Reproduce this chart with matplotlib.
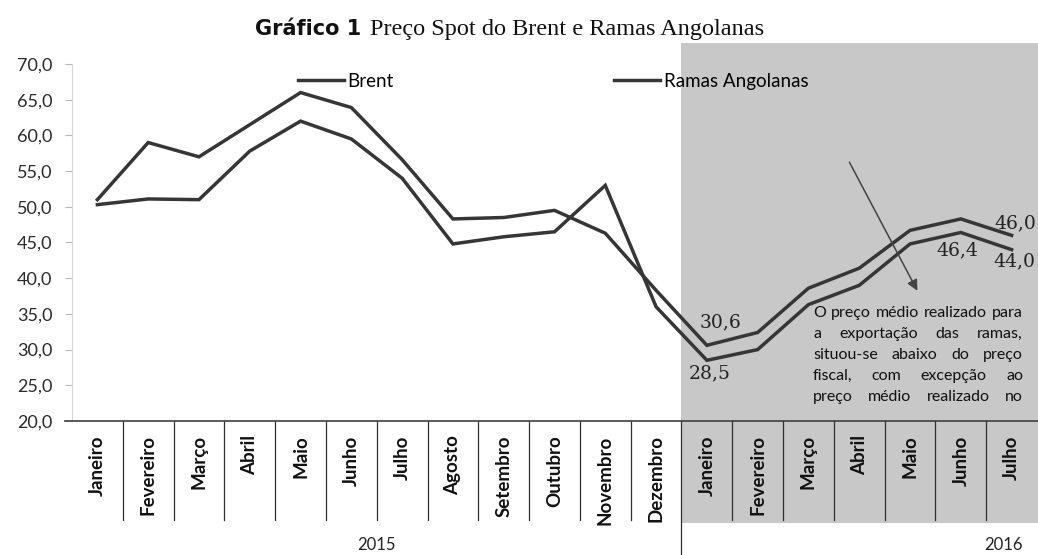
import matplotlib
matplotlib.use("Agg")
import matplotlib.pyplot as plt
from matplotlib.patches import Rectangle
import numpy as np

# dados (USD/barril)
meses = ['Janeiro', 'Fevereiro', 'Março', 'Abril', 'Maio', 'Junho', 'Julho',
         'Agosto', 'Setembro', 'Outubro', 'Novembro', 'Dezembro',
         'Janeiro', 'Fevereiro', 'Março', 'Abril', 'Maio', 'Junho', 'Julho']
anos = ['2015', '2016']
brent = [51.0, 59.0, 57.0, 61.5, 66.0, 63.9, 56.6, 48.3, 48.5, 49.5, 46.3, 38.3,
         30.6, 32.4, 38.6, 41.4, 46.7, 48.3, 46.0]
ramas = [50.3, 51.1, 51.0, 57.8, 62.0, 59.5, 54.0, 44.8, 45.8, 46.5, 53.0, 36.0,
         28.5, 30.0, 36.3, 39.0, 44.8, 46.4, 44.0]
nota = ["O preço médio realizado para",
        "a exportação das ramas,",
        "situou-se abaixo do preço",
        "fiscal, com excepção ao",
        "preço médio realizado no"]

W, H = 1038, 555
cor = '#363636'
fig = plt.figure(figsize=(W / 100, H / 100), dpi=100)
ax = fig.add_axes([72 / W, 1 - 421 / H, 965 / W, 357 / H])
n = len(meses)
x = np.arange(n) + 0.5
ax.set_xlim(0, n)
ax.set_ylim(20, 70)

# area sombreada 2016
ax.add_patch(Rectangle((12, 5.7), n - 12 + 0.2, 67.3, facecolor='#c8c8c8',
                       edgecolor='none', zorder=0, clip_on=False))

l1, = ax.plot(x, brent, color=cor, lw=2.5, zorder=3, solid_joinstyle='miter')
l2, = ax.plot(x, ramas, color=cor, lw=2.5, zorder=3, solid_joinstyle='miter')

# eixos
for s in ['top', 'right', 'bottom']:
    ax.spines[s].set_visible(False)
ax.spines['left'].set_color('#d6d6d6')
ax.set_yticks(np.arange(20, 71, 5))
ax.set_yticklabels([f"{v:.1f}".replace('.', ',') for v in np.arange(20, 71, 5)],
                   fontsize=13, color='#2a2a2a', family='Lato')
ax.tick_params(axis='y', length=5, color='#bbbbbb', pad=9)
ax.set_xticks([])
ax.plot([-0.14, n + 0.1], [20, 20], color='#404040', lw=1.2, clip_on=False, zorder=4)

# divisorias das categorias
for i in range(1, n):
    ybot = 1.0 if i == 12 else 6.1
    ax.plot([i, i], [20, ybot], color='#303030', lw=0.9, clip_on=False, zorder=2)
for xi, m in zip(x, meses):
    ax.text(xi, 18.0, m, rotation=90, ha='center', va='top', fontsize=13.5,
            fontweight='bold', family='Lato', color='#111111', clip_on=False)
ax.text(6.0, 2.6, anos[0], ha='center', va='center', fontsize=12, family='Lato', color='#222222')
ax.text(18.33, 2.6, anos[1], ha='center', va='center', fontsize=12, family='Lato', color='#222222')

# legendas
lp = dict(frameon=False, handlelength=2.45, handletextpad=0.2,
          prop={'family': 'Lato', 'size': 13.5}, borderaxespad=0, borderpad=0)
leg1 = ax.legend([l1], ['Brent'], loc='center left', bbox_to_anchor=(4.45 / n, 0.952), **lp)
ax.add_artist(leg1)
ax.legend([l2], ['Ramas Angolanas'], loc='center left', bbox_to_anchor=(10.67 / n, 0.952), **lp)

# rotulos de valores
lab = dict(fontsize=13.5, family='DejaVu Serif', color='#222222', ha='center', va='center',
           textcoords='offset points')
def rot(i, serie, dx, dy):
    ax.annotate(f"{serie[i]:.1f}".replace('.', ','), (x[i], serie[i]), xytext=(dx, dy), **lab)
rot(12, brent, 10, 16.6)
rot(12, ramas, 2.2, -9.4)
rot(17, ramas, -2.2, -13)
rot(18, brent, 2.5, 8.6)
rot(18, ramas, 2.0, -8.6)

# seta
ax.annotate('', xy=(16.67, 37.9), xytext=(15.28, 56.6),
            arrowprops=dict(arrowstyle='-|>', color='#444444', lw=1.1, mutation_scale=16))

# titulo
fig.text(255 / W, 1 - 35 / H, 'Gráfico 1', fontsize=15, fontweight='bold',
         family='DejaVu Sans', va='baseline', ha='left', color='#111111')
fig.text(370 / W, 1 - 35 / H, 'Preço Spot do Brent e Ramas Angolanas', fontsize=17.5,
         family='Liberation Serif', va='baseline', ha='left', color='#111111')

# nota justificada
r = fig.canvas.get_renderer()
x0, x1 = 813, 1023
for k, linha in enumerate(nota):
    yc = 1 - (313 + k * 21) / H
    pal = linha.split()
    ts = [fig.text(0, yc, p, fontsize=11.5, family='Lato', va='center', ha='left',
                   color='#111111') for p in pal]
    ws = [t.get_window_extent(r).width for t in ts]
    gap = (x1 - x0 - sum(ws)) / (len(pal) - 1)
    px = x0
    for t, w in zip(ts, ws):
        t.set_x(px / W)
        px += w + gap

fig.savefig('out.png', dpi=100)
